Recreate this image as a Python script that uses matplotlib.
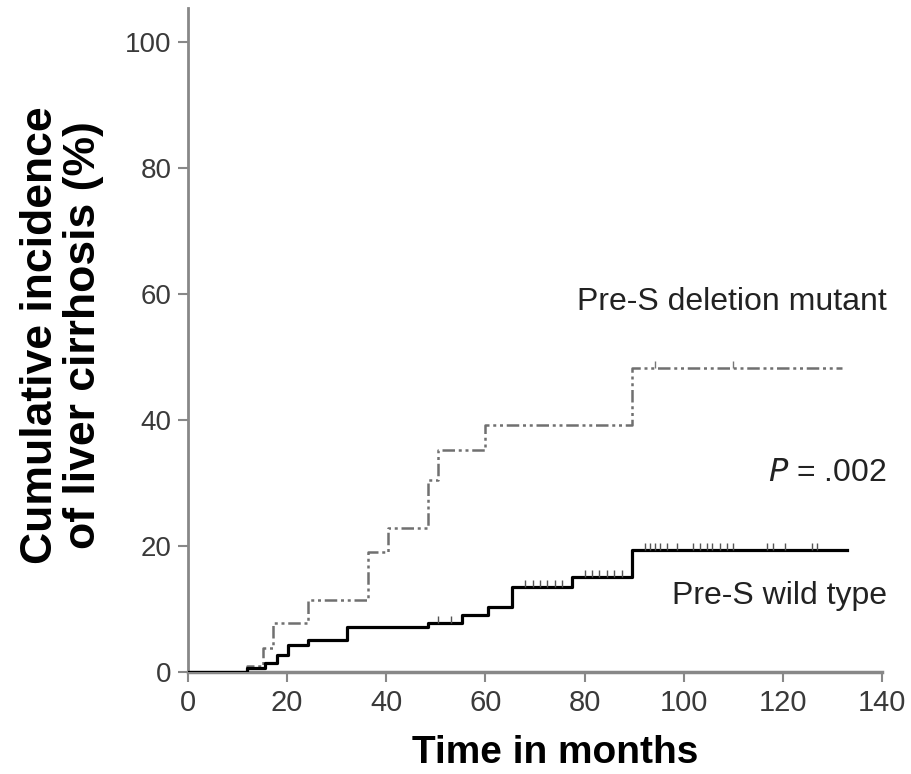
import numpy as np
import matplotlib
matplotlib.use("Agg")
import matplotlib.pyplot as plt
from matplotlib.path import Path

# ---- data (months, cumulative incidence %) ----
wild_t = [0, 11.9, 15.5, 18.0, 20.2, 24.2, 32.1, 48.4, 55.3, 60.5, 65.4, 77.5, 89.6, 133.0]
wild_y = [0, 0.6, 1.4, 2.7, 4.3, 5.1, 7.1, 7.8, 9.0, 10.3, 13.5, 15.1, 19.4, 19.4]
wild_censor = [50.5, 53, 68, 69.5, 71, 72.5, 74, 75.5, 80, 81.5, 83, 84.5, 86, 87.5,
               92.2, 93.2, 94.2, 95.2, 96.6, 98.6, 101.9, 103.3, 104.7, 105.7, 107.3,
               108.7, 110, 116.8, 118, 120.4, 125.9, 126.9]

mut_t = [0, 12.0, 15.1, 17.2, 24.2, 36.3, 40.3, 48.4, 50.4, 59.9, 89.5, 132.0]
mut_y = [0, 1.0, 3.8, 7.8, 11.4, 19.0, 22.9, 30.5, 35.2, 39.2, 48.3, 48.3]
mut_censor = [94.2, 110]

x_ticks = [0, 20, 40, 60, 80, 100, 120, 140]
y_ticks = [0, 20, 40, 60, 80, 100]

plt.rcParams['font.family'] = ['Liberation Sans', 'DejaVu Sans']

W, H = 912, 774
fig = plt.figure(figsize=(W / 100, H / 100), dpi=100)
ax = fig.add_axes([188 / W, (H - 672) / H, (882 - 188) / W, (672 - 8) / H])


def step_val(ts, ys, t):
    i = np.searchsorted(ts, t, side='right') - 1
    return ys[i]


ax.step(wild_t, wild_y, where='post', color='black', lw=2.3, zorder=3)
ax.step(mut_t, mut_y, where='post', color='#707070', lw=1.8,
        linestyle=(0, (5, 1.5, 1.2, 1.5, 1.2, 1.5)), zorder=2)

tick_marker = Path([(0, 0), (0, 1)])
ax.plot(wild_censor, [step_val(wild_t, wild_y, t) for t in wild_censor],
        linestyle='none', marker=tick_marker, markersize=10, mec='#555555', mew=1.0, zorder=4)
ax.plot(mut_censor, [step_val(mut_t, mut_y, t) for t in mut_censor],
        linestyle='none', marker=tick_marker, markersize=10, mec='#777777', mew=1.0, zorder=4)

ax.set_xlim(0, 140)
ax.set_ylim(0, 105.4)
ax.set_xticks(x_ticks)
ax.set_yticks(y_ticks)
ax.set_xticklabels([str(v) for v in x_ticks], fontsize=21, color='#3a3a3a')
ax.set_yticklabels([str(v) for v in y_ticks], fontsize=20, color='#3a3a3a')
ax.tick_params(axis='both', length=7, width=1.5, color='#888888', pad=5)
for s in ['top', 'right']:
    ax.spines[s].set_visible(False)
ax.spines['left'].set_color('#888888')
ax.spines['left'].set_linewidth(2.0)
ax.spines['bottom'].set_color('#888888')
ax.spines['bottom'].set_linewidth(2.5)
ax.patch.set_alpha(0)

ax.text(141, 58.7, 'Pre-S deletion mutant', ha='right', va='center', fontsize=23,
        color='#222222', clip_on=False)
ax.text(141, 31.6, r'$P$ = .002', ha='right', va='center', fontsize=23,
        color='#222222', clip_on=False)
ax.text(141, 12.1, 'Pre-S wild type', ha='right', va='center', fontsize=23,
        color='#222222', clip_on=False)

fig.text(62 / W, 1 - 335 / H, 'Cumulative incidence\nof liver cirrhosis (%)', rotation=90,
         ha='center', va='center', multialignment='center', fontsize=32,
         fontweight='bold', linespacing=1.05)
fig.text(555 / W, 1 - 753 / H, 'Time in months', ha='center', va='center',
         fontsize=28, fontweight='bold')

fig.savefig('out.png', dpi=100)
